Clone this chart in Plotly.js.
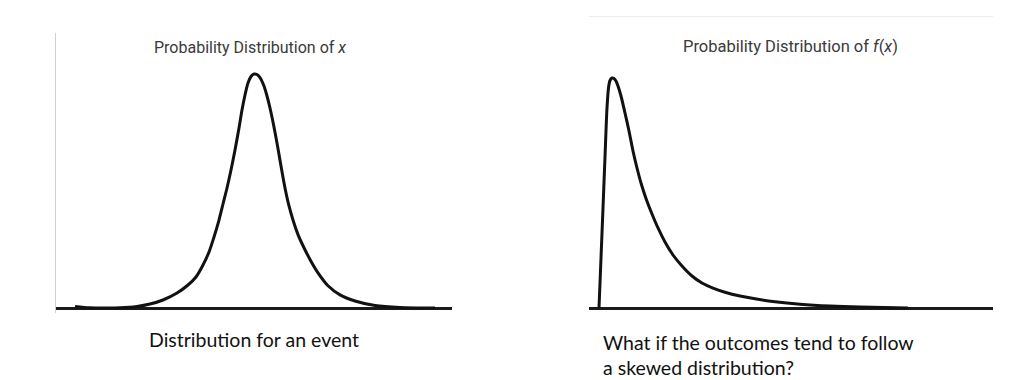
<!DOCTYPE html>
<html>
<head>
<meta charset="utf-8">
<script src="https://cdn.plot.ly/plotly-3.0.1.min.js"></script>
<style>html,body{margin:0;padding:0;background:#fff;}#chart{width:1022px;height:380px;}</style>
</head>
<body>
<div id="chart"></div>
<script>
// Left panel: symmetric distribution of x
const xLeft = [-4.5, -4.125, -3.75, -3.375, -2.95, -2.625, -2.3, -1.95, -1.675, -1.475, -1.3, -1.15, -1.025, -0.9, -0.8, -0.7, -0.6, -0.5, -0.4, -0.325, -0.25, -0.175, -0.1, -0.025, 0.05, 0.125, 0.225, 0.3, 0.375, 0.45, 0.55, 0.65, 0.75, 0.85, 0.95, 1.075, 1.225, 1.375, 1.575, 1.825, 2.125, 2.5, 3.0, 3.625, 4.5];
const yLeft = [0.0026, 0.0003, 0.0, 0.0003, 0.0026, 0.0068, 0.0137, 0.0256, 0.0393, 0.0530, 0.0735, 0.0957, 0.1214, 0.1504, 0.1778, 0.2051, 0.2359, 0.2701, 0.3077, 0.3385, 0.3641, 0.3846, 0.3957, 0.4, 0.3991, 0.3940, 0.3795, 0.3624, 0.3419, 0.3179, 0.2821, 0.2427, 0.2051, 0.1744, 0.1504, 0.1255, 0.1030, 0.0830, 0.0600, 0.0380, 0.0225, 0.0120, 0.0043, 0.0009, 0.0];

// Right panel: skewed distribution of f(x)
const xRight = [0, 0.05, 0.1, 0.15, 0.2, 0.2375, 0.275, 0.325, 0.375, 0.425, 0.475, 0.55, 0.65, 0.75, 0.85, 0.95, 1.05, 1.175, 1.325, 1.475, 1.65, 1.85, 2.075, 2.325, 2.575, 2.85, 3.15, 3.525, 3.9, 4.4, 5.025, 5.775, 6.525, 7.725];
const yRight = [0.0, 0.0855, 0.1709, 0.2581, 0.3419, 0.3761, 0.3889, 0.3932, 0.3923, 0.3880, 0.3795, 0.3624, 0.3333, 0.3026, 0.2684, 0.2393, 0.2137, 0.1872, 0.1607, 0.1368, 0.1128, 0.0906, 0.0718, 0.0547, 0.0427, 0.0340, 0.0270, 0.0205, 0.0157, 0.0108, 0.0066, 0.0034, 0.0015, 0.0];

const titleLeft = 'Probability Distribution of <i>x</i>';
const titleRight = 'Probability Distribution of <i>f</i>(<i>x</i>)';
const captionLeft = 'Distribution for an event';
const captionRight = 'What if the outcomes tend to follow<br>a skewed distribution?';

const W = 1022, H = 380;
const px = v => v / W;
const py = v => (H - v) / H;

const lineStyle = {color: '#111', width: 3, shape: 'spline', smoothing: 0.8};

const data = [
  {x: xLeft, y: yLeft, type: 'scatter', mode: 'lines', line: lineStyle, xaxis: 'x', yaxis: 'y', hoverinfo: 'skip'},
  {x: xRight, y: yRight, type: 'scatter', mode: 'lines', line: lineStyle, xaxis: 'x2', yaxis: 'y2', hoverinfo: 'skip'}
];

const titleFont = {family: 'Roboto, sans-serif', size: 16, color: '#3a3a3a'};
const titleFontR = {family: 'Roboto, sans-serif', size: 16.5, color: '#3a3a3a'};
const captionFont = {family: 'Lato, sans-serif', size: 19.5, color: '#111'};

const layout = {
  width: W, height: H,
  margin: {l: 0, r: 0, t: 0, b: 0},
  paper_bgcolor: '#fff', plot_bgcolor: 'rgba(0,0,0,0)',
  showlegend: false,
  xaxis: {domain: [px(56), px(452)], range: [-4.975, 4.925], showgrid: false, zeroline: false, showticklabels: false, ticks: '', showline: false, anchor: 'y'},
  yaxis: {domain: [py(313), py(33)], range: [-5/585, 275/585], showgrid: false, showticklabels: false, ticks: '',
          showline: true, linecolor: '#cfcfcf', linewidth: 1.5,
          zeroline: true, zerolinecolor: '#1a1a1a', zerolinewidth: 3, anchor: 'x'},
  xaxis2: {domain: [px(589), px(993)], range: [-0.25, 9.85], showgrid: false, zeroline: false, showticklabels: false, ticks: '',
           showline: true, side: 'top', linecolor: '#ececec', linewidth: 1.5, anchor: 'y2'},
  yaxis2: {domain: [py(313), py(17)], range: [-5/585, 291/585], showgrid: false, showticklabels: false, ticks: '', showline: false,
           zeroline: true, zerolinecolor: '#1a1a1a', zerolinewidth: 3, anchor: 'x2'},
  annotations: [
    {text: titleLeft, xref: 'paper', yref: 'paper', x: px(250), y: py(48), xanchor: 'center', yanchor: 'middle', showarrow: false, font: titleFont},
    {text: titleRight, xref: 'paper', yref: 'paper', x: px(790), y: py(46), xanchor: 'center', yanchor: 'middle', showarrow: false, font: titleFontR},
    {text: captionLeft, xref: 'paper', yref: 'paper', x: px(147), y: py(339), xanchor: 'left', yanchor: 'middle', showarrow: false, font: captionFont},
    {text: captionRight, xref: 'paper', yref: 'paper', x: px(601), y: py(355), xanchor: 'left', yanchor: 'middle', align: 'left', showarrow: false, font: captionFont}
  ]
};

Plotly.newPlot('chart', data, layout, {displayModeBar: false, staticPlot: true});
</script>
</body>
</html>
